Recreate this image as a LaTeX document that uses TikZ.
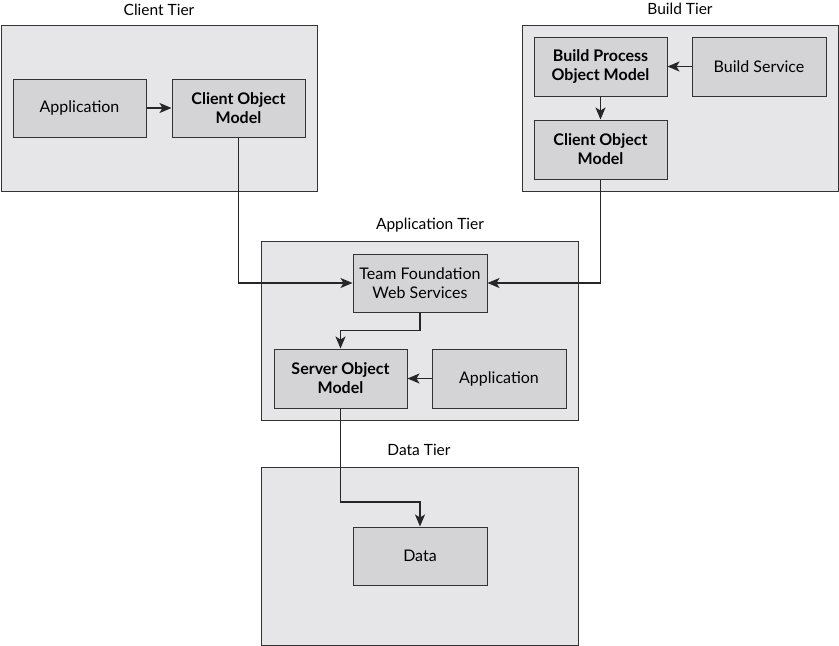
\documentclass[tikz,border=0pt]{standalone}
\usepackage{fontspec}
\setmainfont{Lato}
\usetikzlibrary{arrows.meta}
\definecolor{tierfill}{HTML}{E6E6E8}
\definecolor{boxfill}{HTML}{D4D4D6}
\definecolor{edge}{HTML}{333333}
\begin{document}
\begin{tikzpicture}[x=1pt,y=-1pt,
  tier/.style={draw=edge,fill=tierfill,line width=1pt},
  comp/.style={draw=edge,fill=boxfill,line width=1pt,font=\fontsize{16}{19}\selectfont,align=center,inner sep=0pt},
  bcomp/.style={comp,font=\fontsize{16}{19}\selectfont\bfseries},
  tierlabel/.style={font=\fontsize{15.5}{18}\selectfont,anchor=center},
  conn/.style={draw=black!85,line width=1.5pt,-{Stealth[length=12pt,width=10pt,inset=3pt]}}
]
\useasboundingbox (0,0) rectangle (839,646);
% tiers
\path[tier] (1,25) rectangle (317,191);
\node[tierlabel] (lct) at (159,10) {Client Tier};
\path[tier] (522,25) rectangle (838,191);
\node[tierlabel] (lbt) at (680,9) {Build Tier};
\path[tier] (261,241) rectangle (578,420);
\node[tierlabel] (lat) at (430,225) {Application Tier};
\path[tier] (261,467) rectangle (578,645);
\node[tierlabel] (ldt) at (419,450) {Data Tier};
% components
\node[comp,minimum width=133pt,minimum height=58pt] (capp) at (79.5,108) {Application};
\node[bcomp,minimum width=133pt,minimum height=58pt] (ccom) at (238.5,108) {Client Object\\Model};
\node[bcomp,minimum width=133pt,minimum height=59pt] (bpom) at (600.5,66.5) {Build Process\\Object Model};
\node[comp,minimum width=134pt,minimum height=59pt] (bsvc) at (759,66.5) {Build Service};
\node[bcomp,minimum width=133pt,minimum height=59pt] (bcom) at (600.5,149.5) {Client Object\\Model};
\node[comp,minimum width=134pt,minimum height=58pt] (tfws) at (420,283) {Team Foundation\\Web Services};
\node[bcomp,minimum width=133pt,minimum height=59pt] (som) at (340.5,378.5) {Server Object\\Model};
\node[comp,minimum width=134pt,minimum height=59pt] (aapp) at (499,378.5) {Application};
\node[comp,minimum width=134pt,minimum height=58pt] (data) at (420,556) {Data};
% connectors
\draw[conn] (capp.east) -- (ccom.west);
\draw[conn] (bsvc.west) -- (bpom.east);
\draw[conn] (bpom.south) -- (bcom.north);
\draw[conn] (ccom.south) |- (tfws.west);
\draw[conn] (bcom.south) |- (tfws.east);
\draw[conn] (tfws.south) -- ++(0,18) -| (som.north);
\draw[conn] (aapp.west) -- (som.east);
\draw[conn] (som.south) -- (340.5,502) -| (data.north);
\end{tikzpicture}
\end{document}
